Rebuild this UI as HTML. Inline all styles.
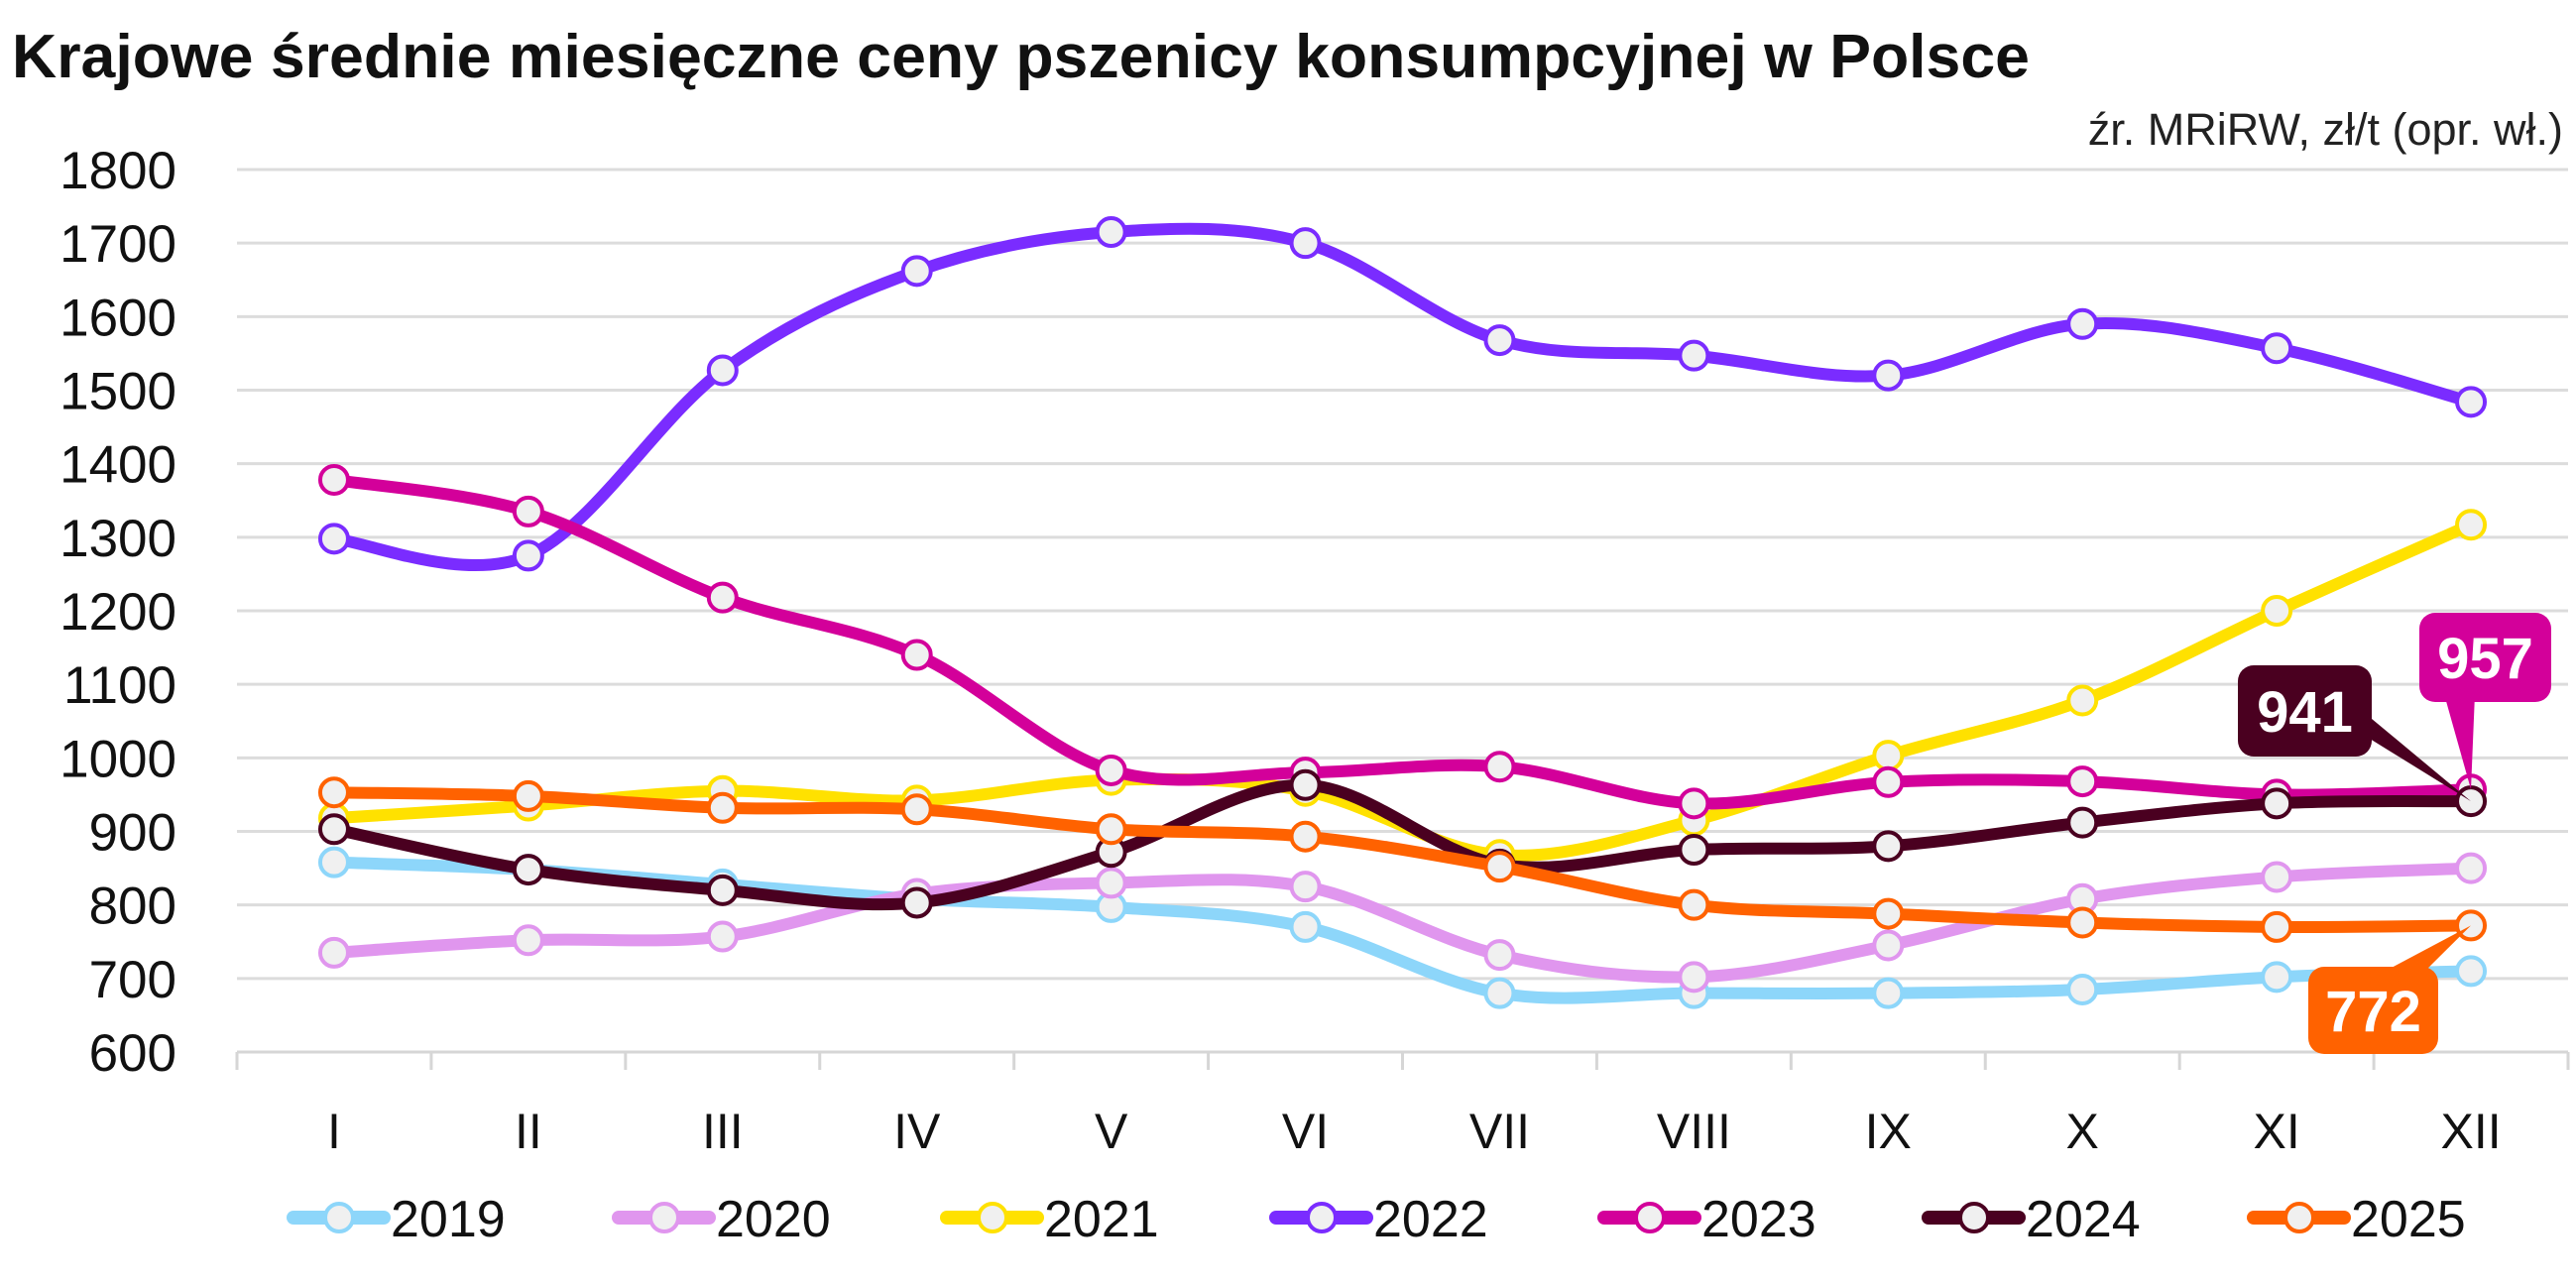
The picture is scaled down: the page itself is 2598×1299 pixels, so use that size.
<!DOCTYPE html>
<html><head><meta charset="utf-8"><style>
body{margin:0;background:#fff;}
svg{display:block;font-family:"Liberation Sans",sans-serif;}
</style></head><body>
<svg id="chart" width="2598" height="1299" viewBox="0 0 2598 1299">
<text x="12" y="78" font-size="62" font-weight="bold" fill="#111" textLength="2035" lengthAdjust="spacingAndGlyphs">Krajowe średnie miesięczne ceny pszenicy konsumpcyjnej w Polsce</text>
<text x="2585" y="146" font-size="45" fill="#222" text-anchor="end">źr. MRiRW, zł/t (opr. wł.)</text>
<g id="grid"></g><g id="xaxis"></g><g id="lines"></g><g id="callouts"></g><g id="legend"></g>
</svg>
<script>
const months=["I","II","III","IV","V","VI","VII","VIII","IX","X","XI","XII"];
const yTicks=[600,700,800,900,1000,1100,1200,1300,1400,1500,1600,1700,1800];
const years=["2019","2020","2021","2022","2023","2024","2025"];
const colors=["#8dd6fa","#e096ee","#ffe100","#7a2cff","#d3009a","#4a0020","#ff6200"];
const s2019=[858,848,828,808,797,770,680,680,680,685,702,710];
const s2020=[735,752,757,815,830,825,732,702,745,808,838,850];
const s2021=[918,935,955,942,970,955,868,915,1003,1078,1200,1317];
const s2022=[1298,1275,1527,1662,1715,1700,1568,1547,1520,1590,1557,1484];
const s2023=[1378,1335,1218,1140,983,980,988,938,967,968,950,957];
const s2024=[903,848,820,803,872,963,855,875,880,912,938,941];
const s2025=[953,948,932,930,903,893,852,800,788,776,770,772];
const series=[s2019,s2020,s2021,s2022,s2023,s2024,s2025];
const callVals=[941,957,772];
const NS="http://www.w3.org/2000/svg";
const L=239,R=2590,Y0=1061,Y1=171;
const step=(R-L)/months.length;
const x=i=>L+step*(i+0.5);
const y=v=>Y0-(v-600)/(1800-600)*(Y0-Y1);
function mk(t,a,p){const e=document.createElementNS(NS,t);for(const k in a)e.setAttribute(k,a[k]);p.appendChild(e);return e;}
const grid=document.getElementById('grid');
yTicks.forEach(v=>{
 const g=mk('line',{x1:L,x2:R,y1:y(v),y2:y(v),stroke:'#dcdcdc','stroke-width':3},grid);
 
 
 const t=mk('text',{x:178,y:y(v)+19,'font-size':53,'text-anchor':'end',fill:'#111'},grid);
 t.textContent=v;
 
 
});
const xa=document.getElementById('xaxis');
const ax=mk('line',{x1:L,x2:R,y1:Y0,y2:Y0,stroke:'#d6d6d6','stroke-width':3},xa);


for(let i=0;i<=months.length;i++){
 const tk=mk('line',{x1:L+step*i,x2:L+step*i,y1:Y0,y2:Y0+18,stroke:'#d6d6d6','stroke-width':3},xa);
 
 
}
months.forEach((m,i)=>{
 const t=mk('text',{x:x(i),y:1158,'font-size':50,'text-anchor':'middle',fill:'#111'},xa);
 t.textContent=m;
 
 
});
function smooth(pts){
 let d='M'+pts[0][0]+','+pts[0][1];
 for(let i=0;i<pts.length-1;i++){
  const p0=pts[i-1]||pts[i],p1=pts[i],p2=pts[i+1],p3=pts[i+2]||p2;
  const c1=[p1[0]+(p2[0]-p0[0])/6,p1[1]+(p2[1]-p0[1])/6];
  const c2=[p2[0]-(p3[0]-p1[0])/6,p2[1]-(p3[1]-p1[1])/6];
  d+=' C'+c1+' '+c2+' '+p2;
 }
 return d;
}
const lg=document.getElementById('lines');
series.forEach((s,k)=>{
 const g=mk('g',{},lg);
 
 
 const pts=s.map((v,i)=>[x(i),y(v)]);
 const p=mk('path',{d:smooth(pts),fill:'none',stroke:colors[k],'stroke-width':12,'stroke-linecap':'round'},g);
 
 
 pts.forEach((q,i)=>{
  const c=mk('circle',{cx:q[0],cy:q[1],r:14,fill:'#f0f0f0',stroke:colors[k],'stroke-width':4},g);
  
  
 });
});
const co=document.getElementById('callouts');
function callout(val,col,bx,by,bw,bh,tx1,tx2,name){
 const g=mk('g',{},co);
 
 
 mk('polygon',{points:`${tx1[0]},${tx1[1]} ${tx2[0]},${tx2[1]} ${x(11)},${y(val)}`,fill:col},g);
 mk('rect',{x:bx,y:by,width:bw,height:bh,rx:16,fill:col},g);
 const t=mk('text',{x:bx+bw/2,y:by+bh/2+21,'font-size':58,'font-weight':'bold','text-anchor':'middle',fill:'#fff'},g);
 t.textContent=val;
}
callout(callVals[0],colors[5],2257,671,135,92,[2380,715],[2390,745],'callout-2024');
callout(callVals[1],colors[4],2440,618,133,90,[2465,700],[2496,700],'callout-2023');
callout(callVals[2],colors[6],2328,975,131,88,[2395,985],[2440,985],'callout-2025');
const leg=document.getElementById('legend');
const lx=[290,618,949,1281,1612,1939,2267];
years.forEach((yr,k)=>{
 const g=mk('g',{},leg);
 
 
 mk('line',{x1:lx[k]+6,x2:lx[k]+97,y1:1228,y2:1228,stroke:colors[k],'stroke-width':14,'stroke-linecap':'round'},g);
 mk('circle',{cx:lx[k]+52,cy:1228,r:14,fill:'#f0f0f0',stroke:colors[k],'stroke-width':4},g);
 const t=mk('text',{x:lx[k]+104,y:1247,'font-size':52,fill:'#111'},g);
 t.textContent=yr;
});
</script>
</body></html>
